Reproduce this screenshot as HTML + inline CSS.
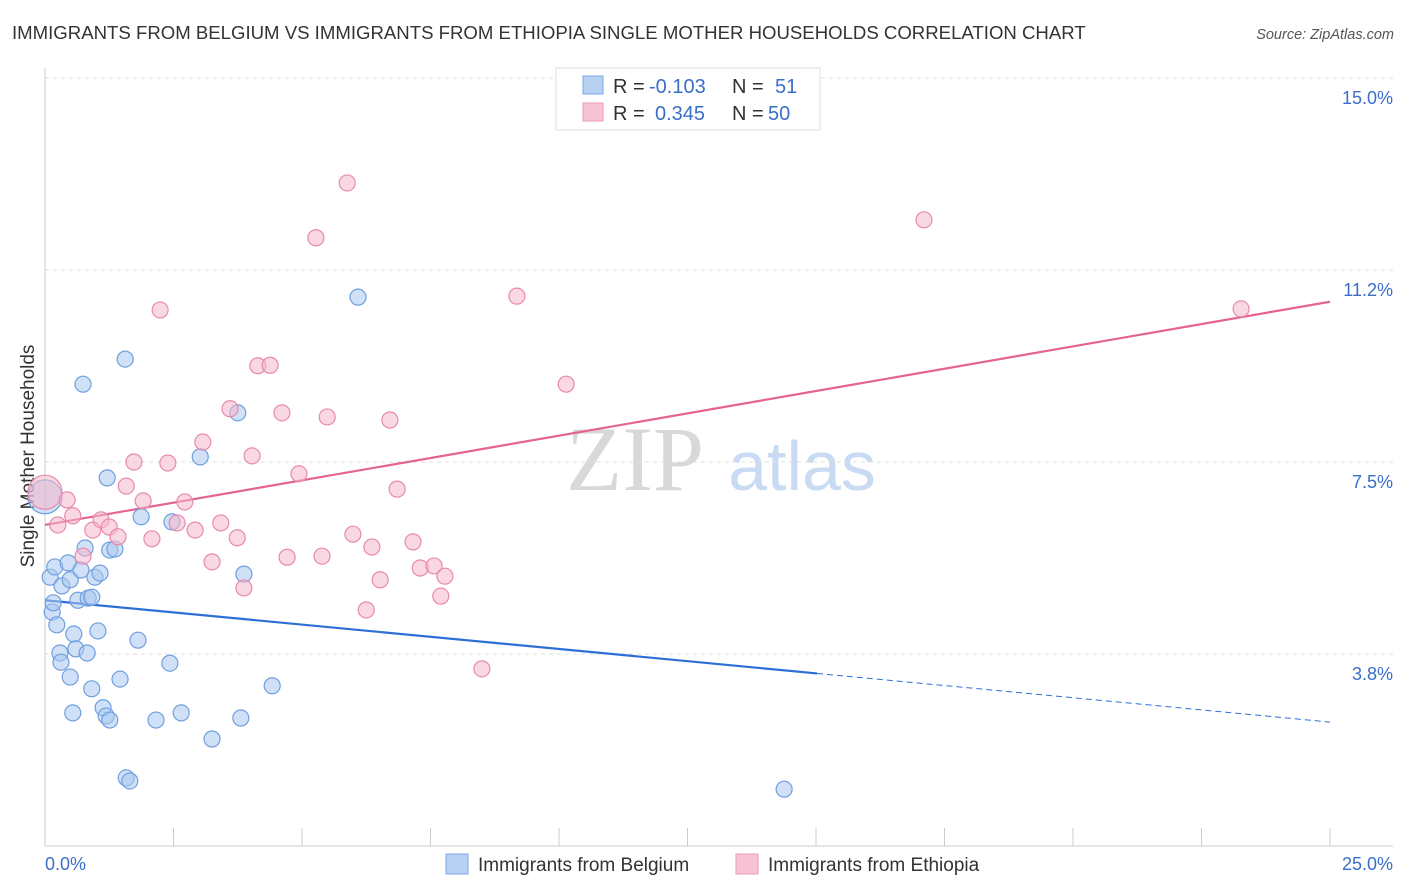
<!DOCTYPE html>
<html><head><meta charset="utf-8"><style>
body{margin:0;background:#fff;font-family:"Liberation Sans",sans-serif;}
svg{display:block}
</style></head><body>
<svg id="chart" width="1406" height="892" xmlns="http://www.w3.org/2000/svg">
<text x="12" y="39" font-size="18.6" fill="#333">IMMIGRANTS FROM BELGIUM VS IMMIGRANTS FROM ETHIOPIA SINGLE MOTHER HOUSEHOLDS CORRELATION CHART</text>
<text x="1394" y="39" font-size="14.5" fill="#555" font-style="italic" text-anchor="end">Source: ZipAtlas.com</text>
<text transform="translate(34,456) rotate(-90)" font-size="19" fill="#333" text-anchor="middle">Single Mother Households</text>
<g>
<text x="635" y="490" font-size="92" font-family="Liberation Serif,serif" fill="#d8d8d8" text-anchor="middle">ZIP</text>
<text x="802" y="490" font-size="70" fill="#c9dbf2" text-anchor="middle">atlas</text>
</g>
<g id="grid"></g><g id="axes"></g><g id="trend"></g><g id="pts"></g>
<g>
<rect x="556" y="68" width="264" height="62" fill="#fff" stroke="#ddd"/>
<rect x="583" y="76" width="20" height="18" fill="#b7d1f3" stroke="#7aa6e3"/>
<rect x="583" y="103" width="20" height="18" fill="#f8c4d4" stroke="#ea9ab6"/>
<g font-size="20" fill="#333">
<text x="613" y="93">R =</text><text x="649" y="93" fill="#3a6fc9">-0.103</text><text x="732" y="93">N =</text><text x="775" y="93" fill="#3a6fc9">51</text>
<text x="613" y="120">R =</text><text x="655" y="120" fill="#3a6fc9">0.345</text><text x="732" y="120">N =</text><text x="768" y="120" fill="#3a6fc9">50</text>
</g>
</g>
<g>
<rect x="446" y="854" width="22" height="20" fill="#b7d1f3" stroke="#7aa6e3"/>
<text x="478" y="871" font-size="19" fill="#333">Immigrants from Belgium</text>
<rect x="736" y="854" width="22" height="20" fill="#f8c4d4" stroke="#ea9ab6"/>
<text x="768" y="871" font-size="19" fill="#333">Immigrants from Ethiopia</text>
</g>
</svg>
<script>
const yTicks=[3.75,7.5,11.25,15];
const yTickLabels=["3.8%","7.5%","11.2%","15.0%"];
const xTickLabels=["0.0%","25.0%"];
const belgiumX=[0,0.10,0.14,0.16,0.19,0.23,0.29,0.31,0.33,0.45,0.49,0.49,0.54,0.56,0.60,0.64,0.70,0.74,0.78,0.82,0.84,0.91,0.91,0.97,1.03,1.07,1.13,1.19,1.21,1.26,1.26,1.36,1.46,1.56,1.58,1.65,1.81,1.87,2.16,2.43,2.47,2.65,3.02,3.25,3.75,3.81,3.87,4.42,6.09,14.38];
const belgiumY=[6.82,5.25,4.57,4.75,5.45,4.32,3.77,3.59,5.08,5.53,5.20,3.30,2.60,4.14,3.85,4.80,5.39,9.02,5.82,3.77,4.84,4.86,3.07,5.25,4.20,5.33,2.70,2.54,7.19,2.46,5.78,5.80,3.26,9.51,1.33,1.27,4.02,6.43,2.46,3.57,6.33,2.60,7.60,2.09,8.46,2.50,5.31,3.13,10.72,1.11];
const ethiopiaX=[0,0.25,0.43,0.54,0.74,0.93,1.09,1.25,1.42,1.58,1.73,1.91,2.08,2.24,2.39,2.57,2.72,2.92,3.07,3.25,3.42,3.60,3.74,3.87,4.03,4.14,4.38,4.61,4.71,4.94,5.27,5.39,5.49,5.88,5.99,6.25,6.36,6.52,6.71,6.85,7.16,7.30,7.57,7.70,7.78,8.50,9.18,10.14,17.10,23.27];
const ethiopiaY=[6.91,6.27,6.76,6.45,5.66,6.17,6.37,6.23,6.04,7.03,7.50,6.74,6.00,10.47,7.48,6.31,6.72,6.17,7.89,5.55,6.31,8.54,6.02,5.04,7.62,9.38,9.39,8.46,5.64,7.27,11.88,5.66,8.38,12.95,6.09,4.61,5.84,5.20,8.32,6.97,5.94,5.43,5.47,4.88,5.27,3.46,10.74,9.02,12.23,10.49];
const belgiumTrend=[4.80,2.42]; const belgiumSolidEnd=15.02;
const ethiopiaTrend=[6.27,10.63];
const NS="http://www.w3.org/2000/svg";
const X=v=>45+v*51.4, Y=v=>846-v*51.2;
function mk(p,t,a){const e=document.createElementNS(NS,t);for(const k in a)e.setAttribute(k,a[k]);p.appendChild(e);return e;}
const grid=document.getElementById('grid'),axes=document.getElementById('axes');
yTicks.forEach((t,i)=>{
 const l=mk(grid,'line',{x1:45,x2:1393,y1:Y(t),y2:Y(t),stroke:'#ddd','stroke-dasharray':'4,4'});
 
 
 const tx=mk(axes,'text',{x:1393,y:Y(t)+26,'font-size':18,fill:'#3a6fc9','text-anchor':'end'});
 tx.textContent=yTickLabels[i];
 
 
});
const ax=mk(axes,'line',{x1:45,x2:1393,y1:846,y2:846,stroke:'#ccc'});


const ay=mk(axes,'line',{x1:45,x2:45,y1:68,y2:846,stroke:'#ccc'});


for(let i=0;i<=10;i++){const t=mk(axes,'line',{x1:X(i*2.5),x2:X(i*2.5),y1:828,y2:846,stroke:'#ccc'});
 
 }
[[0,'start',45],[25,'end',1393]].forEach((d,i)=>{const t=mk(axes,'text',{x:d[2],y:870,'font-size':18,fill:'#3a6fc9','text-anchor':d[1]});t.textContent=xTickLabels[i];
 
 });
const pts=document.getElementById('pts');
function draw(xs,ys,fill,stroke,name){xs.forEach((x,i)=>{const c=mk(pts,'circle',{cx:X(x),cy:Y(ys[i]),r:x===0&&i===0?17:8,fill:fill,'fill-opacity':0.55,stroke:stroke,'stroke-width':1.2});
 
 });}
draw(belgiumX,belgiumY,'#a9c8f0','#6f9fe0','belgium-point');
draw(ethiopiaX,ethiopiaY,'#f5b8cc','#e88aab','ethiopia-point');
const tr=document.getElementById('trend');
const bv=v=>belgiumTrend[0]+(belgiumTrend[1]-belgiumTrend[0])*v/25;
const b1=mk(tr,'line',{x1:X(0),y1:Y(bv(0)),x2:X(belgiumSolidEnd),y2:Y(bv(belgiumSolidEnd)),stroke:'#2d6fd6','stroke-width':2.2});


const b2=mk(tr,'line',{x1:X(belgiumSolidEnd),y1:Y(bv(belgiumSolidEnd)),x2:X(25),y2:Y(bv(25)),stroke:'#2d6fd6','stroke-width':1,'stroke-dasharray':'6,4'});


const p1=mk(tr,'line',{x1:X(0),y1:Y(ethiopiaTrend[0]),x2:X(25),y2:Y(ethiopiaTrend[1]),stroke:'#e5648f','stroke-width':2.2});


</script>
</body></html>
